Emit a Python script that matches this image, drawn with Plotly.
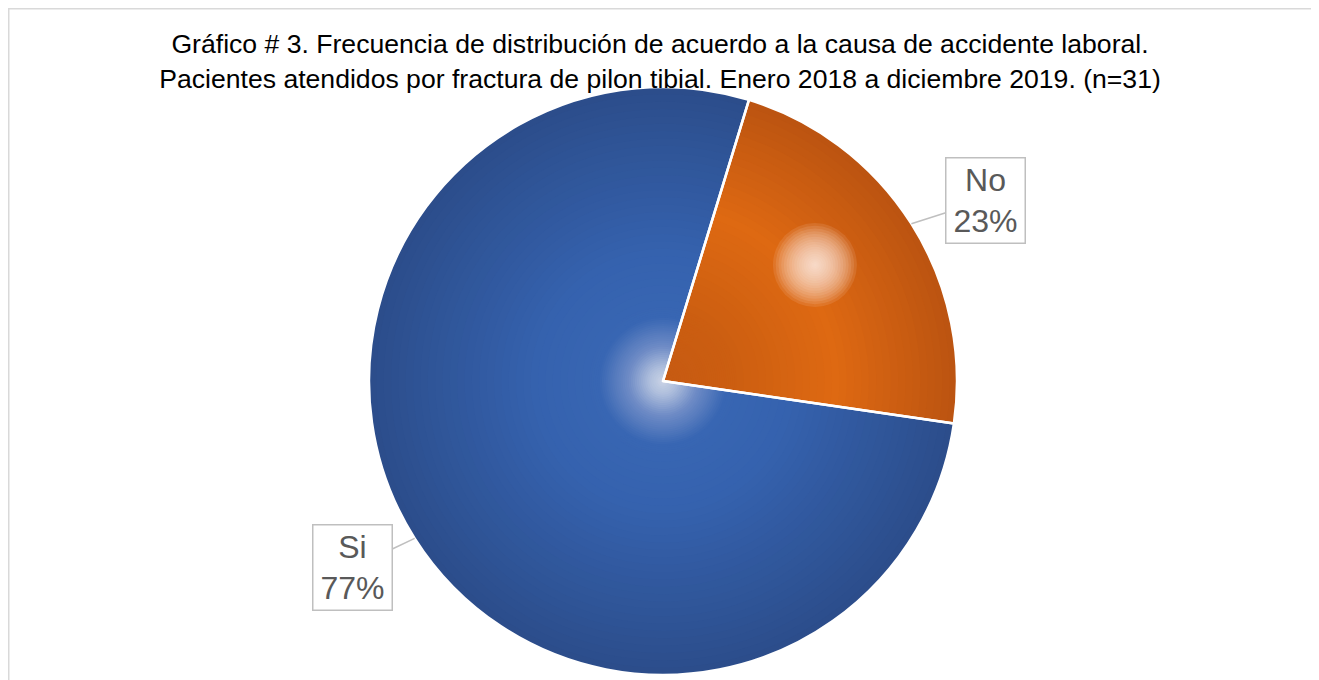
import math
import plotly.graph_objects as go

labels = ["No", "Si"]
values = [7, 24]
colors = ["#C9590F", "#2F5699"]

W, H = 1319, 680
cx, cy, r = 655, 373, 294
rotation = 17
total = sum(values)


def hex2rgb(h):
    h = h.lstrip("#")
    return [int(h[i:i + 2], 16) for i in (0, 2, 4)]


def ramp(stops, t):
    for (t0, c0), (t1, c1) in zip(stops, stops[1:]):
        if t0 <= t <= t1:
            f = (t - t0) / (t1 - t0) if t1 > t0 else 0
            a, b = hex2rgb(c0), hex2rgb(c1)
            return "rgb(%d,%d,%d)" % tuple(round(a[i] + (b[i] - a[i]) * f) for i in range(3))
    return stops[-1][1] if t > stops[-1][0] else stops[0][1]


blue_stops = [(0.0, "#CCD5E7"), (0.05, "#AEBEDC"), (0.12, "#6F8CC6"), (0.22, "#3866B3"),
              (0.45, "#3562AE"), (1.0, "#2C4D8B")]
orange_stops = [(0.0, "#C65A12"), (0.25, "#CC5E11"), (0.6, "#DE6912"), (1.0, "#BC5411")]


def dom(x, y, rad):
    return dict(x=[(x - rad) / W, (x + rad) / W], y=[1 - (y + rad) / H, 1 - (y - rad) / H])


ts = [1 - 0.75 * k / 30 for k in range(30)] + [0.25 - 0.245 * k / 35 for k in range(36)]

fig = go.Figure()
for k, t in enumerate(ts):
    fig.add_trace(go.Pie(
        labels=labels, values=values, sort=False, direction="clockwise",
        rotation=rotation, textinfo="none",
        hoverinfo="label+percent" if k == 0 else "skip",
        marker=dict(colors=[ramp(orange_stops, t), ramp(blue_stops, t)], line=dict(width=0)),
        domain=dom(cx, cy, r * t), showlegend=False,
    ))

# highlight glow in the "No" slice
mid_no = math.radians(rotation + values[0] / total * 180 - 5)
gx, gy = cx + 0.65 * r * math.sin(mid_no), cy - 0.65 * r * math.cos(mid_no)
for k in range(18):
    rad = 42 * (1 - k / 18) ** 1.2
    fig.add_trace(go.Pie(
        labels=["g"], values=[1], textinfo="none", hoverinfo="skip",
        marker=dict(colors=["rgba(255,238,225,0.11)"], line=dict(width=0)),
        domain=dom(gx, gy, rad), showlegend=False,
    ))

# slice borders on top
fig.add_trace(go.Pie(
    labels=labels, values=values, sort=False, direction="clockwise",
    rotation=rotation, textinfo="none", hoverinfo="skip",
    marker=dict(colors=["rgba(0,0,0,0)", "rgba(0,0,0,0)"], line=dict(color="white", width=2.5)),
    domain=dom(cx, cy, r), showlegend=False,
))

# callout labels positioned from slice mid-angles
cum = 0
for lab, v in zip(labels, values):
    mid = rotation + (cum + v / 2) / total * 360
    cum += v
    th = math.radians(mid)
    tx, ty = cx + r * math.sin(th), cy - r * math.cos(th)
    tb = math.radians(mid + 2.2)
    bx, by = cx + 1.245 * r * math.sin(tb) + 6, cy - 1.245 * r * math.cos(tb) + 3
    fig.add_annotation(
        x=tx / W, y=1 - ty / H, xref="paper", yref="paper",
        ax=bx - tx, ay=by - ty, axref="pixel", ayref="pixel",
        text=f"{lab}<br>{round(v / total * 100)}%",
        font=dict(family="Liberation Sans, Arial", size=32, color="#595959"),
        showarrow=True, arrowhead=0, arrowwidth=1.5, arrowcolor="#BFBFBF", standoff=0,
        bordercolor="#BFBFBF", borderwidth=1.5, borderpad=3, bgcolor="white",
        width=72, height=78, align="center", valign="middle",
    )

fig.update_layout(
    width=W, height=H, margin=dict(l=0, r=0, t=0, b=0),
    paper_bgcolor="white", plot_bgcolor="white",
    title=dict(
        text="Gráfico # 3. Frecuencia de distribución de acuerdo a la causa de accidente laboral.<br>"
             "Pacientes atendidos por fractura de pilon tibial. Enero 2018 a diciembre 2019. (n=31)",
        x=652 / W, xanchor="center", y=1 - 45 / H, yanchor="top",
        font=dict(family="Liberation Sans, Arial", size=26.6, color="black"),
    ),
    shapes=[dict(type="rect", xref="paper", yref="paper",
                 x0=0.75 / W, x1=1305 / W, y0=-0.05, y1=1 - 0.75 / H,
                 line=dict(color="#D9D9D9", width=1.5))],
)

fig.write_html("out.html")
